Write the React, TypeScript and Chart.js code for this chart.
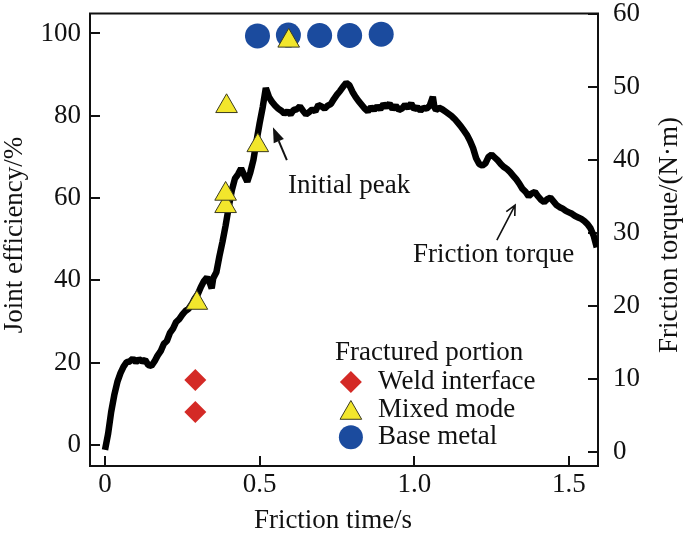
import React, { useEffect, useRef } from 'react';
import { Chart, registerables } from 'chart.js';

Chart.register(...registerables);

// ---------------- data ----------------
const timeS = [
  0.00, 0.01, 0.02, 0.03, 0.04, 0.05, 0.06, 0.07, 0.08, 0.09,
  0.10, 0.11, 0.12, 0.13, 0.14, 0.15, 0.16, 0.17, 0.18, 0.19,
  0.20, 0.21, 0.22, 0.23, 0.24, 0.25, 0.26, 0.27, 0.28, 0.29,
  0.30, 0.31, 0.32, 0.33, 0.34, 0.345, 0.35, 0.36, 0.37, 0.38,
  0.39, 0.40, 0.41, 0.42, 0.43, 0.44, 0.45, 0.46, 0.47, 0.48,
  0.49, 0.50, 0.51, 0.52, 0.53, 0.54, 0.55, 0.56, 0.57, 0.58,
  0.59, 0.60, 0.61, 0.62, 0.63, 0.64, 0.65, 0.66, 0.67, 0.68,
  0.69, 0.70, 0.71, 0.72, 0.73, 0.74, 0.75, 0.76, 0.77, 0.78,
  0.79, 0.80, 0.81, 0.82, 0.83, 0.84, 0.85, 0.86, 0.87, 0.88,
  0.89, 0.90, 0.91, 0.92, 0.93, 0.94, 0.95, 0.96, 0.97, 0.98,
  0.99, 1.00, 1.01, 1.02, 1.03, 1.04, 1.05, 1.06, 1.065, 1.07,
  1.08, 1.09, 1.10, 1.11, 1.12, 1.13, 1.14, 1.15, 1.16, 1.17,
  1.18, 1.19, 1.20, 1.21, 1.22, 1.23, 1.24, 1.25, 1.26, 1.27,
  1.28, 1.29, 1.30, 1.31, 1.32, 1.33, 1.34, 1.35, 1.36, 1.37,
  1.38, 1.39, 1.40, 1.41, 1.42, 1.43, 1.44, 1.45, 1.46, 1.47,
  1.48, 1.49, 1.50, 1.51, 1.52, 1.53, 1.54, 1.55, 1.56, 1.57,
  1.58, 1.59,
];
const torqueNm = [
  0.3, 2.5, 5.5, 7.8, 9.6, 10.8, 11.7, 12.3, 12.4, 12.8,
  12.3, 12.7, 12.4, 12.6, 11.9, 11.8, 12.4, 13.2, 13.8, 14.8,
  15.2, 16.3, 16.9, 17.8, 18.2, 18.8, 19.3, 19.6, 20.2, 21.0,
  21.6, 22.6, 23.4, 23.9, 23.0, 22.4, 23.8, 24.6, 26.8, 28.8,
  31.0, 33.5, 35.8, 37.4, 38.0, 38.8, 37.9, 37.0, 38.3, 40.0,
  42.6, 45.0, 47.2, 49.8, 48.6, 47.9, 47.4, 47.0, 46.7, 46.3,
  46.6, 46.2, 46.8, 46.9, 47.3, 46.7, 46.2, 46.5, 46.9, 46.6,
  47.5, 47.3, 47.0, 47.4, 47.6, 48.3, 48.9, 49.4, 50.0, 50.5,
  50.2, 49.3, 48.6, 48.0, 47.5, 47.0, 46.6, 47.2, 46.8, 47.3,
  46.9, 47.6, 47.2, 47.7, 46.9, 47.4, 46.8, 47.0, 47.5, 47.1,
  47.7, 46.9, 47.2, 46.7, 47.1, 47.0, 47.4, 48.6, 47.2, 46.8,
  47.1, 46.9, 46.6, 46.3, 46.0, 45.6, 45.1, 44.6, 44.0, 43.4,
  42.6, 41.6, 40.2, 39.4, 39.2, 39.5, 40.4, 40.7, 40.3, 39.9,
  39.4, 39.0, 38.7, 38.3, 37.8, 37.3, 36.7, 36.0, 35.6, 35.0,
  35.4, 35.6, 35.0, 34.5, 34.2, 34.6, 34.8, 34.3, 33.8, 33.5,
  33.3, 33.0, 32.8, 32.6, 32.3, 32.1, 31.9, 31.6, 31.2, 30.6,
  29.6, 28.0,
];

const weldTime = [0.292, 0.292];
const weldEff = [15.8, 8.0];

const mixedTime = [0.297, 0.39, 0.39, 0.393, 0.494, 0.594];
const mixedEff = [34.5, 58.0, 61.0, 82.3, 72.8, 98.2];

const baseTime = [0.493, 0.593, 0.694, 0.791, 0.893];
const baseEff = [99.4, 99.6, 99.5, 99.5, 99.8];

const xTicks = [0, 0.5, 1.0, 1.5];
const xTickLabels = ['0', '0.5', '1.0', '1.5'];
const yTicks = [0, 20, 40, 60, 80, 100];
const yTickLabels = ['0', '20', '40', '60', '80', '100'];
const y1Ticks = [0, 10, 20, 30, 40, 50, 60];
const y1TickLabels = ['0', '10', '20', '30', '40', '50', '60'];

const legendTitle = 'Fractured portion';
const legendLabels = ['Weld interface', 'Mixed mode', 'Base metal'];

// ---------------- styles ----------------
const FONT = "'Liberation Serif', 'Times New Roman', serif";
const TXT = '#111111';
const RED = '#d42a26';
const YEL = '#f2e62c';
const YEL_EDGE = '#3a3a20';
const BLUE = '#1b4b9e';

function drawDiamond(ctx: CanvasRenderingContext2D, x: number, y: number, r: number) {
  ctx.beginPath();
  ctx.moveTo(x - r, y);
  ctx.lineTo(x, y - r);
  ctx.lineTo(x + r, y);
  ctx.lineTo(x, y + r);
  ctx.closePath();
  ctx.fillStyle = RED;
  ctx.fill();
}
function drawTriangle(ctx: CanvasRenderingContext2D, x: number, y: number, r: number) {
  const h = r * Math.sqrt(3) / 2;
  ctx.beginPath();
  ctx.moveTo(x, y - r);
  ctx.lineTo(x + h, y + r / 2);
  ctx.lineTo(x - h, y + r / 2);
  ctx.closePath();
  ctx.fillStyle = YEL;
  ctx.fill();
  ctx.lineWidth = 1;
  ctx.strokeStyle = YEL_EDGE;
  ctx.stroke();
}
function drawCircle(ctx: CanvasRenderingContext2D, x: number, y: number, r: number) {
  ctx.beginPath();
  ctx.arc(x, y, r, 0, Math.PI * 2);
  ctx.fillStyle = BLUE;
  ctx.fill();
}

const overlayPlugin = {
  id: 'overlay',
  beforeDatasetsDraw(chart: any) {
    const { ctx, chartArea: a, scales } = chart;
    ctx.save();
    ctx.strokeStyle = TXT;
    ctx.lineWidth = 2;
    ctx.strokeRect(a.left, a.top, a.right - a.left, a.bottom - a.top);
    ctx.beginPath();
    for (const v of yTicks) {
      const p = Math.round(scales.y.getPixelForValue(v));
      ctx.moveTo(a.left, p);
      ctx.lineTo(a.left + 10, p);
    }
    for (const v of y1Ticks) {
      const p = Math.round(scales.y1.getPixelForValue(v));
      ctx.moveTo(a.right - 10, p);
      ctx.lineTo(a.right, p);
    }
    for (const v of xTicks) {
      const p = Math.round(scales.x.getPixelForValue(v));
      ctx.moveTo(p, a.bottom - 10);
      ctx.lineTo(p, a.bottom);
    }
    ctx.stroke();
    ctx.restore();
  },
  afterDatasetsDraw(chart: any) {
    const { ctx, scales } = chart;
    const X = (v: number) => scales.x.getPixelForValue(v);
    const Y = (v: number) => scales.y.getPixelForValue(v);
    ctx.save();
    ctx.fillStyle = TXT;
    ctx.strokeStyle = TXT;
    ctx.font = `27px ${FONT}`;
    ctx.textBaseline = 'alphabetic';
    ctx.textAlign = 'left';

    // "Initial peak" annotation with filled arrow
    {
      const x0 = X(0.588), y0 = Y(69.2), x1 = X(0.543), y1 = Y(77.2);
      const ang = Math.atan2(y1 - y0, x1 - x0);
      const hl = 15, hw = 5.5;
      const bx = x1 - Math.cos(ang) * hl, by = y1 - Math.sin(ang) * hl;
      ctx.lineWidth = 2;
      ctx.beginPath();
      ctx.moveTo(x0, y0);
      ctx.lineTo(bx, by);
      ctx.stroke();
      ctx.beginPath();
      ctx.moveTo(x1, y1);
      ctx.lineTo(bx - Math.sin(ang) * hw, by + Math.cos(ang) * hw);
      ctx.lineTo(bx + Math.sin(ang) * hw, by - Math.cos(ang) * hw);
      ctx.closePath();
      ctx.fill();
      ctx.fillText('Initial peak', X(0.592), Y(61.2));
    }
    // "Friction torque" annotation with open arrow
    {
      const x0 = X(1.267), y0 = Y(49.8), x1 = X(1.326), y1 = Y(58.3);
      const ang = Math.atan2(y1 - y0, x1 - x0);
      ctx.lineWidth = 1.6;
      ctx.beginPath();
      ctx.moveTo(x0, y0);
      ctx.lineTo(x1, y1);
      const hl = 11, sp = 0.45;
      ctx.moveTo(x1 - Math.cos(ang - sp) * hl, y1 - Math.sin(ang - sp) * hl);
      ctx.lineTo(x1, y1);
      ctx.lineTo(x1 - Math.cos(ang + sp) * hl, y1 - Math.sin(ang + sp) * hl);
      ctx.stroke();
      ctx.fillText('Friction torque', X(0.996), Y(44.4));
    }

    // legend
    {
      ctx.fillStyle = TXT;
      ctx.fillText(legendTitle, X(0.744), Y(20.6));
      const sx = X(0.795);
      const tx = X(0.883);
      const rows = [Y(15.3), Y(8.5), Y(1.9)];
      drawDiamond(ctx, sx, rows[0], 11);
      drawTriangle(ctx, sx, rows[1] + 3, 12.5);
      drawCircle(ctx, sx, rows[2], 12);
      ctx.fillStyle = TXT;
      legendLabels.forEach((l, i) => ctx.fillText(l, tx, rows[i] + 7));
    }

    // axis titles
    ctx.textAlign = 'center';
    ctx.fillText('Friction time/s', 333, 528);
    ctx.save();
    ctx.translate(22, 235);
    ctx.rotate(-Math.PI / 2);
    ctx.fillText('Joint efficiency/%', 0, 0);
    ctx.restore();
    ctx.save();
    ctx.translate(677, 235);
    ctx.rotate(-Math.PI / 2);
    ctx.fillText('Friction torque/(N·m)', 0, 0);
    ctx.restore();

    ctx.restore();
  },
};

export default function App() {
  const ref = useRef<HTMLCanvasElement | null>(null);
  useEffect(() => {
    if (!ref.current) return;
    const tickFont = { family: FONT, size: 27 };
    const chart = new Chart(ref.current, {
      type: 'scatter',
      data: {
        datasets: [
          {
            label: 'Mixed mode',
            data: mixedTime.map((x, i) => ({ x, y: mixedEff[i] })),
            yAxisID: 'y',
            pointStyle: 'triangle',
            pointRadius: 12.5,
            backgroundColor: YEL,
            borderColor: YEL_EDGE,
            borderWidth: 1,
            order: 0,
          },
          {
            label: 'Weld interface',
            data: weldTime.map((x, i) => ({ x, y: weldEff[i] })),
            yAxisID: 'y',
            pointStyle: 'rectRot',
            pointRadius: 11,
            backgroundColor: RED,
            borderWidth: 0,
            order: 1,
          },
          {
            label: 'Base metal',
            data: baseTime.map((x, i) => ({ x, y: baseEff[i] })),
            yAxisID: 'y',
            pointStyle: 'circle',
            pointRadius: 12.5,
            backgroundColor: BLUE,
            borderWidth: 0,
            order: 2,
          },
          {
            label: 'Friction torque',
            data: timeS.map((x, i) => ({ x, y: torqueNm[i] })),
            yAxisID: 'y1',
            showLine: true,
            borderColor: '#000000',
            borderWidth: 6.5,
            borderJoinStyle: 'bevel',
            pointRadius: 0,
            tension: 0,
            fill: false,
            order: 3,
          } as any,
        ],
      },
      options: {
        responsive: false,
        animation: false,
        events: [],
        layout: { padding: { top: 13, left: 0, right: 0, bottom: 0 } },
        plugins: { legend: { display: false }, tooltip: { enabled: false } },
        scales: {
          x: {
            type: 'linear',
            position: 'bottom',
            min: -0.0485,
            max: 1.594,
            grid: { display: false, drawTicks: false },
            border: { display: false },
            afterBuildTicks: (s: any) => { s.ticks = xTicks.map((v) => ({ value: v })); },
            ticks: {
              font: tickFont, color: TXT, padding: 3, maxRotation: 0, autoSkip: false,
              callback: (_v: any, i: number) => xTickLabels[i],
            },
            afterFit: (s: any) => { s.height = 70; s.paddingLeft = 0; s.paddingRight = 0; },
          },
          y: {
            type: 'linear',
            position: 'left',
            min: -5.1,
            max: 104.85,
            grid: { display: false, drawTicks: false },
            border: { display: false },
            afterBuildTicks: (s: any) => { s.ticks = yTicks.map((v) => ({ value: v })); },
            ticks: {
              font: tickFont, color: TXT, padding: 9, autoSkip: false,
              callback: (_v: any, i: number) => yTickLabels[i],
            },
            afterFit: (s: any) => { s.width = 90; s.paddingTop = 0; s.paddingBottom = 0; },
          },
          y1: {
            type: 'linear',
            position: 'right',
            min: -1.9,
            max: 60,
            grid: { display: false, drawTicks: false },
            border: { display: false },
            afterBuildTicks: (s: any) => { s.ticks = y1Ticks.map((v) => ({ value: v })); },
            ticks: {
              font: tickFont, color: TXT, padding: 15, autoSkip: false,
              callback: (_v: any, i: number) => y1TickLabels[i],
            },
            afterFit: (s: any) => { s.width = 87; s.paddingTop = 0; s.paddingBottom = 0; },
          },
        },
      } as any,
      plugins: [overlayPlugin],
    });
    return () => chart.destroy();
  }, []);

  return (
    <div style={{ position: 'absolute', left: 0, top: 0, width: 685, height: 536, background: '#ffffff' }}>
      <canvas ref={ref} width={685} height={536} style={{ display: 'block', width: 685, height: 536 }} />
    </div>
  );
}
